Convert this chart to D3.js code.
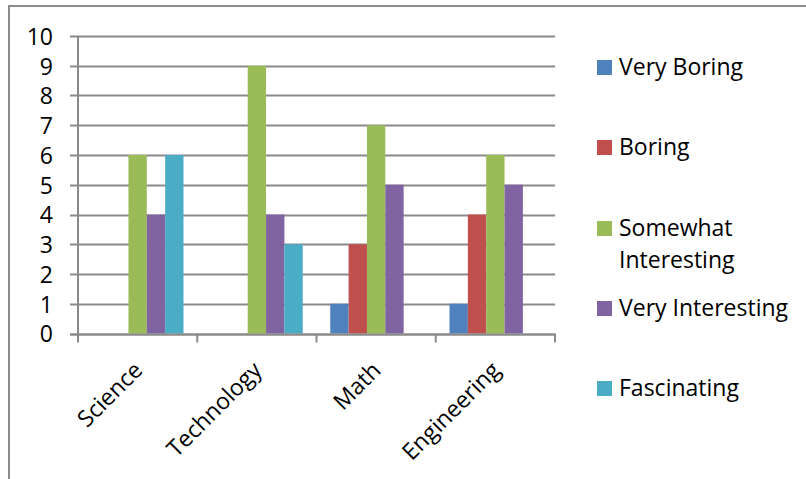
<!DOCTYPE html>
<html><head><meta charset="utf-8">
<script src="https://cdn.jsdelivr.net/npm/d3@7"></script>
<style>
html,body{margin:0;padding:0;background:#fff;}
svg{display:block;font-family:"Open Sans",sans-serif;}
</style></head>
<body>
<script>
const categories = ["Science", "Technology", "Math", "Engineering"];
const seriesNames = ["Very Boring", "Boring", "Somewhat Interesting", "Very Interesting", "Fascinating"];
const seriesColors = ["#4F81BD", "#C0504D", "#9BBB59", "#8064A2", "#4BACC6"];
const veryBoring = [0, 0, 1, 1];
const boring = [0, 0, 3, 4];
const somewhatInteresting = [6, 9, 7, 6];
const veryInteresting = [4, 4, 5, 5];
const fascinating = [6, 3, 0, 0];
const yTicks = [0,1,2,3,4,5,6,7,8,9,10];

const seriesValues = [veryBoring, boring, somewhatInteresting, veryInteresting, fascinating];

const W = 806, H = 479;
const FS = 23;
const svg = d3.select("body").append("svg").attr("width", W).attr("height", H);

// chart frame (top and left edges visible)
svg.append("line").attr("x1",9).attr("x2",W).attr("y1",6).attr("y2",6).attr("stroke","#8c8c8c").attr("stroke-width",2);
svg.append("line").attr("x1",9).attr("x2",9).attr("y1",5).attr("y2",H).attr("stroke","#8c8c8c").attr("stroke-width",2);

const x0 = 78, x1 = 555, yTop = 36, yBot = 333.5;
const x = d3.scaleBand().domain(categories).range([x0, x1]).paddingInner(0).paddingOuter(0);
const y = d3.scaleLinear().domain([0, 10]).range([yBot, yTop]);
// gap width 150% => bar = band / 6.5
const barW = x.bandwidth() / 6.5;
const xs = d3.scaleBand().domain(seriesNames).range([0.75*barW, 5.75*barW]).padding(0);

const g = svg.append("g");

// gridlines
g.selectAll(".grid").data(yTicks).join("line")
  .attr("x1", x0 - 8).attr("x2", x1)
  .attr("y1", d => Math.round(y(d)) + 0.5).attr("y2", d => Math.round(y(d)) + 0.5)
  .attr("stroke", "#8a8a8a").attr("stroke-width", 2);

// bars
seriesNames.forEach((s, si) => {
  g.selectAll(".bar" + si).data(categories).join("rect")
    .attr("x", c => x(c) + xs(s))
    .attr("y", (c, i) => y(seriesValues[si][i]))
    .attr("width", xs.bandwidth())
    .attr("height", (c, i) => yBot - y(seriesValues[si][i]))
    .attr("fill", seriesColors[si]);
});

// y axis
const yAxis = d3.axisLeft(y).tickValues(yTicks).tickSize(0).tickPadding(0).tickFormat(d3.format("d"));
const ya = svg.append("g").attr("transform", `translate(${x0 - 25},0)`).call(yAxis);
ya.select(".domain").remove();
ya.selectAll("text").attr("font-size", FS).attr("fill", "#000").attr("font-family", "'Open Sans', sans-serif").attr("dy", "0.36em");
svg.append("line").attr("x1", x0).attr("x2", x0).attr("y1", yTop).attr("y2", yBot + 8)
  .attr("stroke", "#8a8a8a").attr("stroke-width", 2);

// x axis baseline and ticks
const xa = svg.append("g").attr("transform", `translate(0,${Math.round(yBot)+0.5})`);
xa.append("line").attr("x1", x0 - 8).attr("x2", x1 + 1).attr("stroke", "#8a8a8a").attr("stroke-width", 2);
const tickXs = categories.map(c => x(c)).concat([x1]);
xa.selectAll(".tk").data(tickXs).join("line")
  .attr("x1", d => d).attr("x2", d => d).attr("y1", 0).attr("y2", 8)
  .attr("stroke", "#8a8a8a").attr("stroke-width", 2);

// category labels rotated -45
svg.append("g").selectAll("text").data(categories).join("text")
  .attr("transform", c => `translate(${x(c) + x.bandwidth()/2 - 6},${yBot + 26}) rotate(-45)`)
  .attr("text-anchor", "end").attr("dy", "0.75em")
  .attr("font-size", FS).attr("fill", "#000")
  .text(c => c);

// legend
const legendTop = [60, 140, 221, 301, 381];
const lg = svg.append("g");
seriesNames.forEach((s, i) => {
  lg.append("rect").attr("x", 597).attr("y", legendTop[i]).attr("width", 15).attr("height", 15).attr("fill", seriesColors[i]);
  const t = lg.append("text").attr("x", 619).attr("y", legendTop[i] + 15).attr("font-size", FS).attr("fill", "#000");
  if (s === "Somewhat Interesting") {
    t.append("tspan").attr("x", 619).text("Somewhat");
    t.append("tspan").attr("x", 619).attr("dy", 32).text("Interesting");
  } else {
    t.text(s);
  }
});
</script>
</body></html>
